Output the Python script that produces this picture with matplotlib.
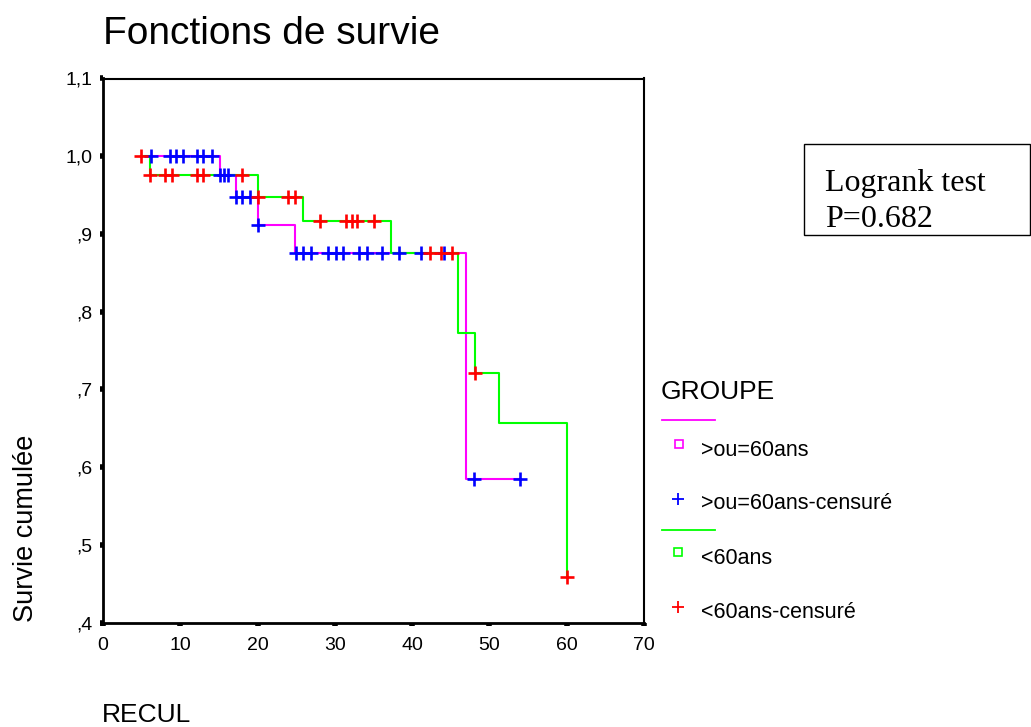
import numpy as np
import matplotlib
matplotlib.use("Agg")
import matplotlib.pyplot as plt
from matplotlib.lines import Line2D
from matplotlib.patches import Rectangle

# Kaplan-Meier survival steps, group ">ou=60ans"
old_times = [6.2, 15.2, 17.2, 20.0, 24.9, 47.0, 54.0]
old_surv = [1.0, 0.976, 0.948, 0.912, 0.876, 0.585, 0.585]
old_censored = [6.2, 8.7, 9.5, 10.3, 12.1, 13.0, 14.1, 15.2, 15.6, 16.2,
                17.2, 18.0, 19.0, 20.0, 25.0, 25.9, 26.9, 29.1, 30.1, 31.0,
                33.1, 34.1, 36.1, 38.3, 41.1, 44.1, 48.0, 54.0]

# Kaplan-Meier survival steps, group "<60ans"
young_times = [4.9, 6.1, 20.0, 25.9, 37.3, 45.9, 48.1, 51.2, 60.0]
young_surv = [1.0, 0.976, 0.948, 0.917, 0.876, 0.773, 0.721, 0.657, 0.459]
young_censored = [4.9, 6.1, 8.0, 8.9, 12.1, 13.0, 18.0, 20.0, 23.9, 24.8,
                  28.1, 31.5, 32.2, 32.9, 35.0, 42.3, 43.7, 45.1, 48.1, 60.0]

x_ticks = [0, 10, 20, 30, 40, 50, 60, 70]
x_tick_labels = ["0", "10", "20", "30", "40", "50", "60", "70"]
y_ticks = [1.1, 1.0, 0.9, 0.8, 0.7, 0.6, 0.5, 0.4]
y_tick_labels = ["1,1", "1,0", ",9", ",8", ",7", ",6", ",5", ",4"]

title = "Fonctions de survie"
x_label = "RECUL"
y_label = "Survie cumulée"
legend_title = "GROUPE"
legend_labels = [">ou=60ans", ">ou=60ans-censuré", "<60ans", "<60ans-censuré"]
logrank_lines = ["Logrank test", "P=0.682"]

MAGENTA = "#ff00ff"
GREEN = "#00ff00"
BLUE = "#0000ff"
RED = "#ff0000"

SANS = ["Liberation Sans", "DejaVu Sans"]
SERIF = ["Liberation Serif", "DejaVu Serif"]

W, H = 1031, 727
fig = plt.figure(figsize=(W / 100, H / 100), dpi=100)


def fx(px):
    return px / W


def fy(py):
    return 1 - py / H


ax = fig.add_axes([fx(103), fy(622.7), fx(644) - fx(103), fy(78.5) - fy(622.7)])


def level_at(times, surv, t):
    idx = np.searchsorted(np.asarray(times), np.asarray(t), side="right") - 1
    return np.asarray(surv)[idx]


# survival curves
ax.step(old_times, old_surv, where="post", color=MAGENTA, lw=1.5, zorder=2)
ax.step(young_times, young_surv, where="post", color=GREEN, lw=1.5, zorder=3)

# censored observations
ax.plot(old_censored, level_at(old_times, old_surv, old_censored),
        ls="none", marker="+", ms=10, mew=1.9, color=BLUE, zorder=4,
        clip_on=False)
ax.plot(young_censored, level_at(young_times, young_surv, young_censored),
        ls="none", marker="+", ms=10, mew=1.9, color=RED, zorder=5,
        clip_on=False)

ax.set_xlim(0, 70)
ax.set_ylim(0.4, 1.1)
ax.set_xticks(x_ticks)
ax.set_xticklabels(x_tick_labels, family=SANS, fontsize=14)
ax.set_yticks(y_ticks)
ax.set_yticklabels(y_tick_labels, family=SANS, fontsize=14)
ax.tick_params(direction="out", length=2.5, width=4, color="black")
ax.tick_params(axis="x", pad=7.5)
ax.tick_params(axis="y", pad=5)

for side in ("left", "bottom"):
    ax.spines[side].set_linewidth(2.0)
for side in ("top", "right"):
    ax.spines[side].set_linewidth(1.5)

# titles and axis labels
fig.text(fx(103), fy(43.5), title, family=SANS, fontsize=28, va="baseline")
fig.text(fx(102), fy(721.7), x_label, family=SANS, fontsize=19, va="baseline")
fig.text(fx(26), fy(528), y_label, family=SANS, fontsize=19.5, rotation=90,
         ha="center", va="center")

# legend block
fig.text(fx(661), fy(399.3), legend_title, family=SANS, fontsize=19,
         va="baseline")
fig.add_artist(Line2D([fx(662), fx(715)], [fy(420), fy(420)],
                      transform=fig.transFigure, color=MAGENTA, lw=1.3))
fig.add_artist(Line2D([fx(678.5)], [fy(444.5)], transform=fig.transFigure,
                      ls="none", marker="s", ms=6, mfc="none", mew=1.2,
                      mec=MAGENTA))
fig.text(fx(701), fy(456), legend_labels[0], family=SANS, fontsize=15.5,
         va="baseline")
fig.add_artist(Line2D([fx(678)], [fy(499)], transform=fig.transFigure,
                      ls="none", marker="+", ms=9, mew=1.3, color=BLUE))
fig.text(fx(701), fy(509.3), legend_labels[1], family=SANS, fontsize=15.5,
         va="baseline")
fig.add_artist(Line2D([fx(662), fx(715)], [fy(530), fy(530)],
                      transform=fig.transFigure, color=GREEN, lw=1.3))
fig.add_artist(Line2D([fx(678.3)], [fy(552.3)], transform=fig.transFigure,
                      ls="none", marker="s", ms=6, mfc="none", mew=1.2,
                      mec=GREEN))
fig.text(fx(701), fy(564.3), legend_labels[2], family=SANS, fontsize=15.5,
         va="baseline")
fig.add_artist(Line2D([fx(678.3)], [fy(607.3)], transform=fig.transFigure,
                      ls="none", marker="+", ms=9, mew=1.3, color=RED))
fig.text(fx(701), fy(618.3), legend_labels[3], family=SANS, fontsize=15.5,
         va="baseline")

# log-rank annotation box
fig.add_artist(Rectangle((fx(804), fy(235)), fx(1030) - fx(804),
                         fy(144) - fy(235), transform=fig.transFigure,
                         fill=False, ec="black", lw=1.0))
fig.text(fx(825), fy(191), logrank_lines[0], family=SERIF, fontsize=23,
         va="baseline")
fig.text(fx(825), fy(227), logrank_lines[1], family=SERIF, fontsize=23,
         va="baseline")

fig.savefig("out.png", dpi=100, facecolor="white")
